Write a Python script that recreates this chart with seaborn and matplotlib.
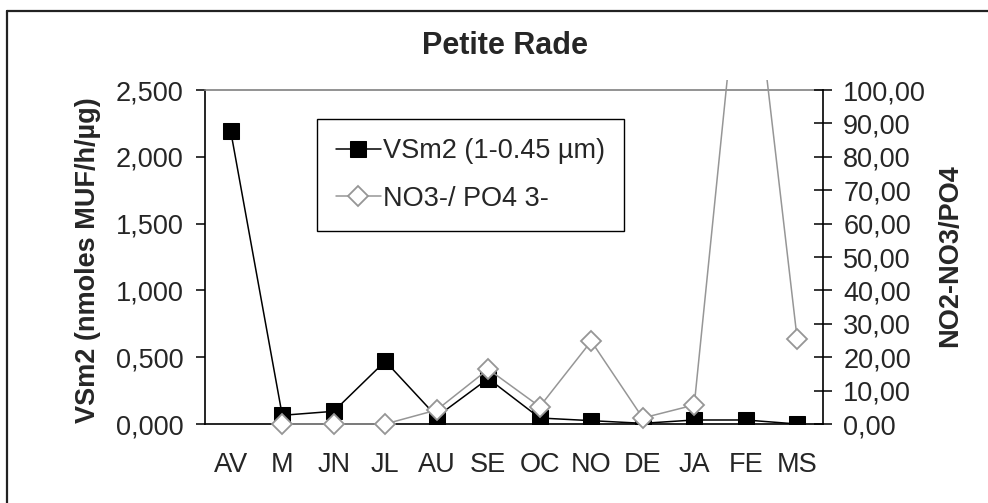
import numpy as np
import pandas as pd
import matplotlib
matplotlib.use("Agg")
import matplotlib.pyplot as plt
from matplotlib.patches import Rectangle
from matplotlib.lines import Line2D
from matplotlib.ticker import FixedLocator, FuncFormatter
import seaborn as sns

# ------------------------------
# Data
# ------------------------------
months = ["AV", "M", "JN", "JL", "AU", "SE", "OC", "NO", "DE", "JA", "FE", "MS"]
vsm2 = [2.19, 0.065, 0.095, 0.47, 0.055, 0.34, 0.045, 0.025, 0.005, 0.03, 0.03, 0.0]
no3_po4 = [np.nan, 0.0, 0.0, 0.0, 4.2, 16.4, 5.2, 24.8, 1.8, 5.7, 158.0, 25.3]

vsm2_label = "VSm2 (1-0.45 µm)"
ratio_label = "NO3-/ PO4 3-"

xpos = np.arange(len(months))
df1 = pd.DataFrame({"x": xpos, "y": vsm2})
df2 = pd.DataFrame({"x": xpos, "y": no3_po4}).dropna()

# ------------------------------
# Style
# ------------------------------
sns.set_style("white")
plt.rcParams["font.family"] = ["Liberation Sans", "DejaVu Sans"]
gray = "#969696"
fs = 19.5

fig = plt.figure(figsize=(9.88, 5.03), dpi=100)
ax1 = fig.add_axes([205 / 988, 1 - 424 / 503, 618 / 988, 334 / 503])
ax2 = ax1.twinx()

sns.lineplot(data=df1, x="x", y="y", ax=ax1, color="black", lw=1.1,
             marker="s", markersize=11, markeredgecolor="black",
             markerfacecolor="black", estimator=None, sort=False,
             legend=False, label=vsm2_label)
sns.lineplot(data=df2, x="x", y="y", ax=ax2, color=gray, lw=1.1,
             marker="D", markersize=10.5, markeredgecolor=gray,
             markeredgewidth=1.3, markerfacecolor="white", estimator=None,
             sort=False, legend=False, label=ratio_label)

# let the big FE value run a little past the top, like Excel
clip = Rectangle((0, -0.08), 1, 1.11, transform=ax2.transAxes)
for ln in ax2.get_lines():
    ln.set_clip_path(clip)

# ------------------------------
# Axes
# ------------------------------
ax1.set_xlim(-0.5, len(months) - 0.5)
ax1.set_ylim(0, 2.5)
ax2.set_ylim(0, 100)

ax1.set_yticks(np.arange(0, 2.51, 0.5))
ax1.yaxis.set_major_formatter(FuncFormatter(lambda v, p: f"{v:.3f}".replace(".", ",")))
ax2.set_yticks(np.arange(0, 101, 10))
ax2.yaxis.set_major_formatter(FuncFormatter(lambda v, p: f"{v:.2f}".replace(".", ",")))

ax1.xaxis.set_major_locator(FixedLocator(np.arange(-0.5, len(months), 1.0)))
ax1.xaxis.set_minor_locator(FixedLocator(xpos))
ax1.set_xticklabels([], minor=False)
ax1.set_xticklabels(months, minor=True)

ax1.tick_params(axis="x", which="major", direction="inout", length=13, width=1.1, color="black")
ax1.tick_params(axis="x", which="minor", length=0, pad=20, labelsize=fs)
ax1.tick_params(axis="y", direction="out", length=6.5, width=1.1, color="black",
                pad=9, labelsize=fs, left=True)
ax2.tick_params(axis="y", direction="inout", length=13, width=1.1, color="black",
                pad=8, labelsize=fs, right=True)

ax1.set_xlabel("")
ax1.set_ylabel("")
ax2.set_ylabel("")

for s in ["left", "bottom"]:
    ax1.spines[s].set_color("black")
    ax1.spines[s].set_linewidth(1.2)
ax1.spines["top"].set_color("#808080")
ax1.spines["top"].set_linewidth(1.2)
ax1.spines["right"].set_visible(False)
for s in ["left", "bottom", "top"]:
    ax2.spines[s].set_visible(False)
ax2.spines["right"].set_color("black")
ax2.spines["right"].set_linewidth(1.2)

# ------------------------------
# Legend
# ------------------------------
handles = ax1.get_lines()[:1] + ax2.get_lines()[:1]
leg = ax2.legend(handles, [vsm2_label, ratio_label], loc="upper left",
                 bbox_to_anchor=(0.181, 0.913), borderaxespad=0, fontsize=fs,
                 frameon=True, fancybox=False, edgecolor="black",
                 handlelength=1.65, handletextpad=0.1, borderpad=0.7,
                 labelspacing=0.8)
leg.get_frame().set_linewidth(1.0)
leg.get_frame().set_alpha(1)

# ------------------------------
# Titles and frame
# ------------------------------
fig.text(505 / 988, 1 - 46 / 503, "Petite Rade", ha="center", va="center",
         fontsize=22, fontweight="bold")
fig.text(88 / 988, 1 - 260 / 503, "VSm2 (nmoles MUF/h/µg)", ha="center", va="center",
         rotation=90, fontsize=fs, fontweight="bold")
fig.text(950 / 988, 1 - 256 / 503, "NO2-NO3/PO4", ha="center", va="center",
         rotation=90, fontsize=fs, fontweight="bold")

fig.add_artist(Line2D([6.5 / 988, 6.5 / 988], [0, 1 - 10.5 / 503], color="#222222", lw=1.6))
fig.add_artist(Line2D([6.5 / 988, 1], [1 - 10.5 / 503, 1 - 10.5 / 503], color="#222222", lw=1.6))

fig.savefig("out.png", dpi=100)
